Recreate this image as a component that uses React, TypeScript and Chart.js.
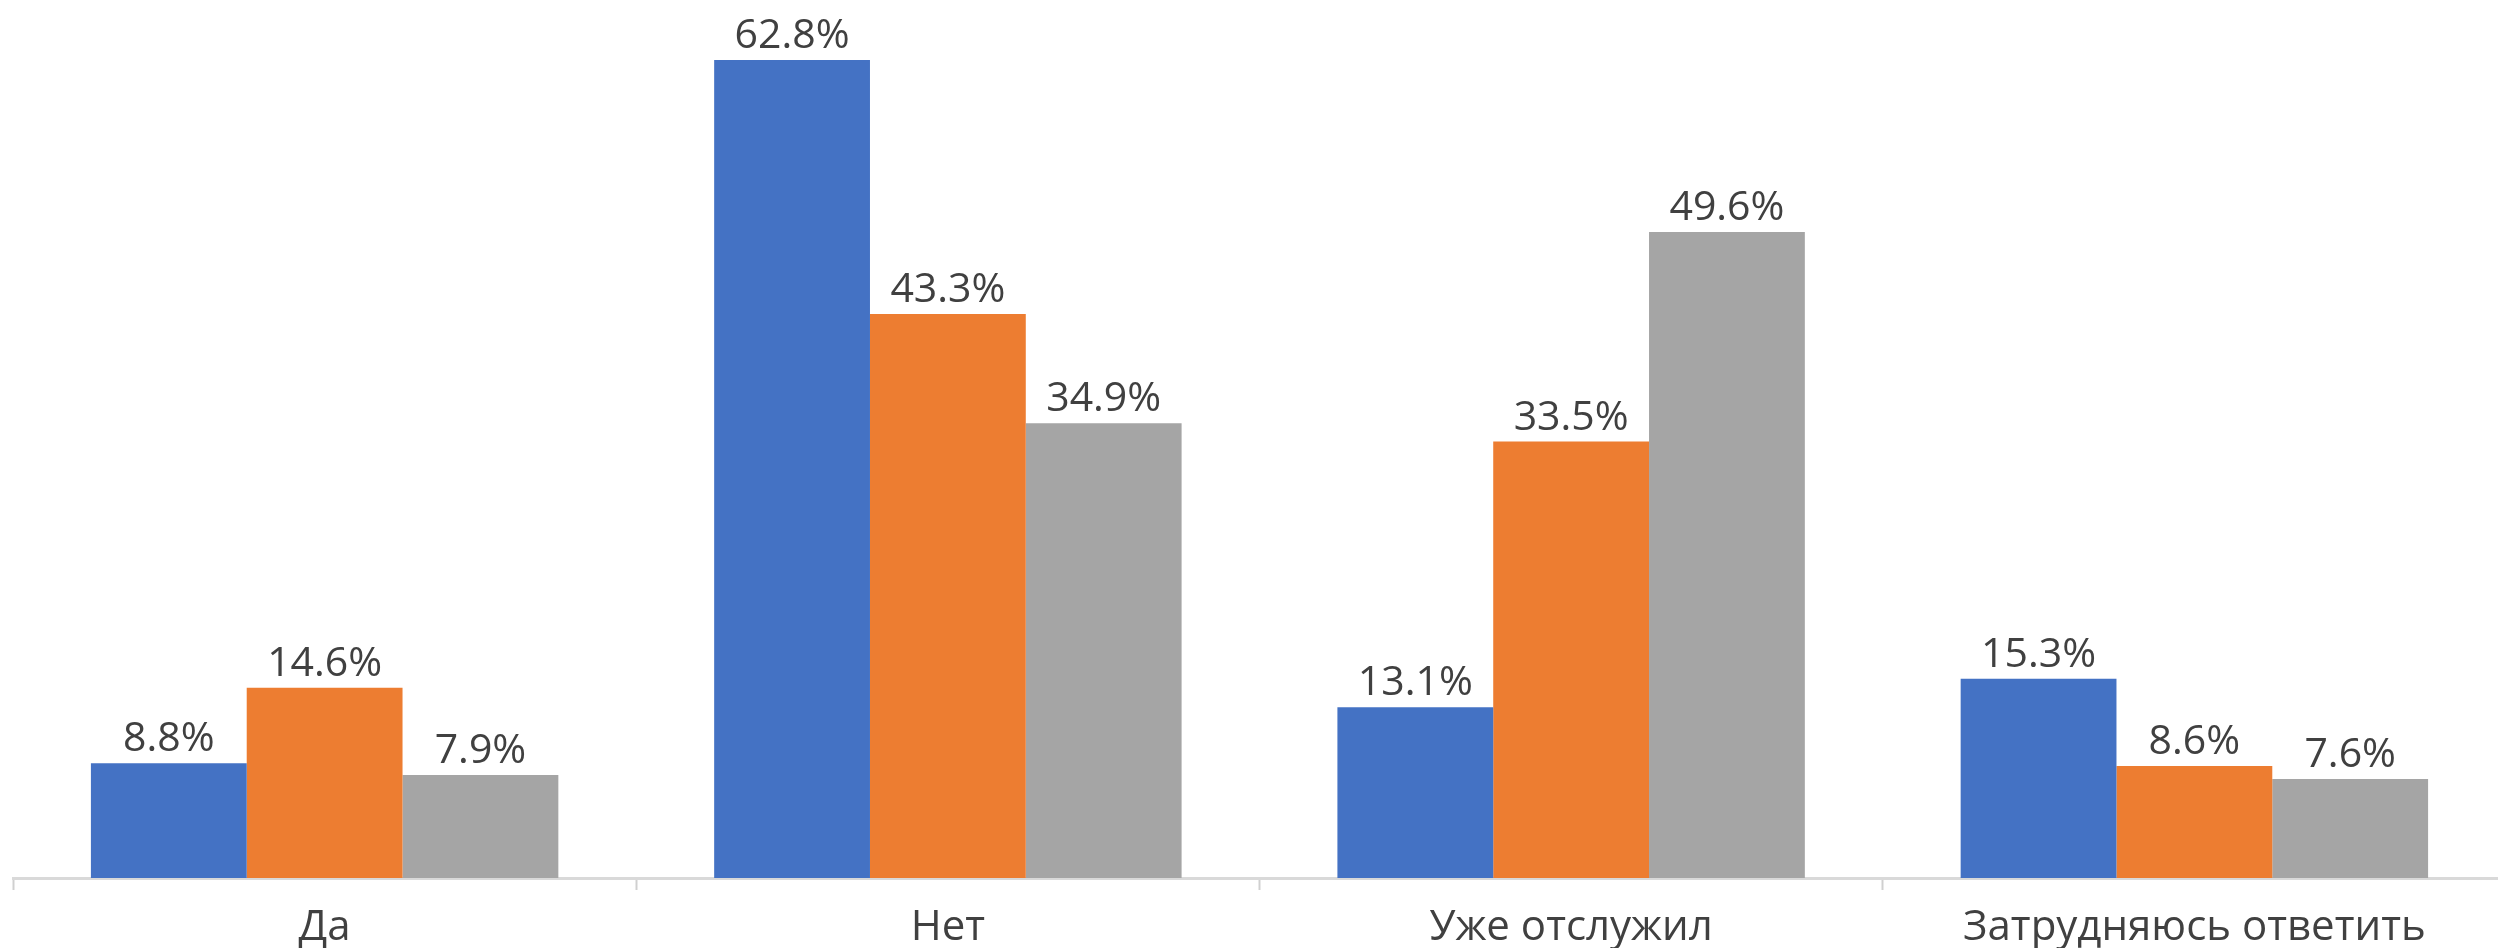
import React, { useEffect, useRef } from "react";
import { Chart, registerables } from "chart.js";

Chart.register(...registerables);

const categories = ["Да", "Нет", "Уже отслужил", "Затрудняюсь ответить"];
const seriesA = [8.8, 62.8, 13.1, 15.3];
const seriesB = [14.6, 43.3, 33.5, 8.6];
const seriesC = [7.9, 34.9, 49.6, 7.6];
const seriesNames = ["Серия 1", "Серия 2", "Серия 3"];
const colors = ["#4472C4", "#ED7D31", "#A5A5A5"];

const FONT = "'Open Sans', 'DejaVu Sans', sans-serif";

const valueLabels = {
  id: "valueLabels",
  afterDatasetsDraw(chart: any) {
    const ctx = chart.ctx;
    ctx.save();
    ctx.font = `41px ${FONT}`;
    ctx.fillStyle = "#404040";
    ctx.textAlign = "center";
    ctx.textBaseline = "alphabetic";
    chart.data.datasets.forEach((ds: any, di: number) => {
      const meta = chart.getDatasetMeta(di);
      meta.data.forEach((el: any, i: number) => {
        const v = ds.data[i];
        ctx.fillText(v.toFixed(1) + "%", el.x, el.y - 12);
      });
    });
    ctx.restore();
  },
};

export default function App() {
  const ref = useRef<HTMLCanvasElement | null>(null);
  useEffect(() => {
    if (!ref.current) return;
    const chart = new Chart(ref.current, {
      type: "bar",
      data: {
        labels: categories,
        datasets: [seriesA, seriesB, seriesC].map((d, i) => ({
          label: seriesNames[i],
          data: d,
          backgroundColor: colors[i],
          borderWidth: 0,
          categoryPercentage: 0.75,
          barPercentage: 1.0,
        })),
      },
      options: {
        animation: false,
        responsive: true,
        maintainAspectRatio: false,
        layout: { padding: { left: 13, right: 0, top: 0, bottom: 0 } },
        plugins: {
          legend: { display: false },
          tooltip: { enabled: false },
          title: { display: false },
        },
        scales: {
          x: {
            offset: true,
            grid: {
              display: true,
              offset: true,
              drawOnChartArea: false,
              drawTicks: true,
              tickLength: 12,
              tickWidth: 2,
              tickColor: "#D0D0D0",
            },
            border: { display: true, color: "#D9D9D9", width: 3 },
            ticks: {
              color: "#404040",
              font: { family: FONT, size: 42 },
              padding: 13,
              maxRotation: 0,
              autoSkip: false,
            },
            afterFit: (scale: any) => {
              scale.height = 70;
            },
          },
          y: {
            display: false,
            min: 0,
            max: 67.4,
          },
        },
      },
      plugins: [valueLabels],
    });
    return () => chart.destroy();
  }, []);
  return (
    <div style={{ position: "fixed", left: 0, top: 0, width: 2498, height: 948, overflow: "hidden", background: "#fff" }}>
      <div style={{ position: "relative", width: 2506, height: 948 }}>
        <canvas ref={ref} />
      </div>
    </div>
  );
}
